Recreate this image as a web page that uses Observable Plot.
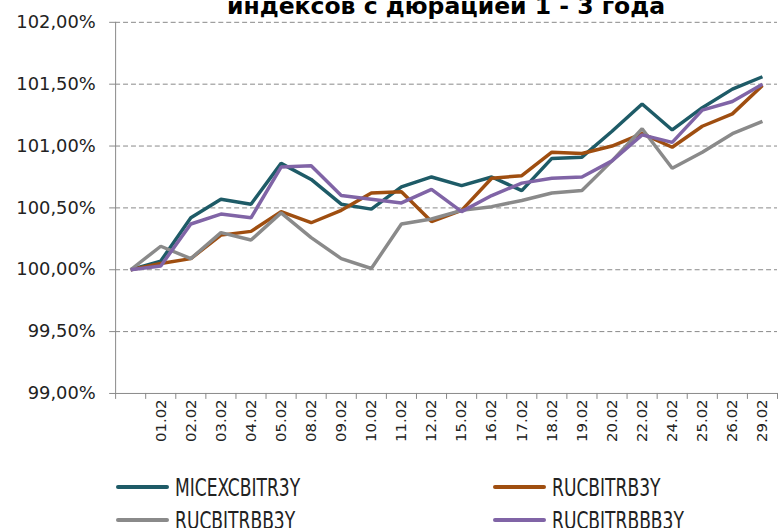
<!DOCTYPE html>
<html>
<head>
<meta charset="utf-8">
<script src="https://cdn.jsdelivr.net/npm/d3@7"></script>
<script src="https://cdn.jsdelivr.net/npm/@observablehq/plot@0.6"></script>
<style>
  html, body { margin: 0; padding: 0; background: #fff; overflow: hidden; }
  #wrap { position: relative; width: 779px; height: 528px; overflow: hidden; }
  #title { position: absolute; left: 0; width: 892px; top: -5px; text-align: center;
           font: bold 23.5px "DejaVu Sans"; line-height: 23px; color: #000; white-space: nowrap; }
  .leg { position: absolute; font: 19px "DejaVu Sans Condensed", "DejaVu Sans"; color: #222;
         transform-origin: left center; transform: scaleY(1.3); white-space: nowrap; line-height: 20px; }
  .sw { position: absolute; height: 4px; border-radius: 2px; }
</style>
</head>
<body>
<div id="wrap">
  <div id="chart"></div>
  <div id="title">индексов с дюрацией 1 - 3 года</div>
</div>
<script>
const dates = ["", "01.02","02.02","03.02","04.02","05.02","08.02","09.02","10.02","11.02","12.02",
  "15.02","16.02","17.02","18.02","19.02","20.02","22.02","24.02","25.02","26.02","29.02"];
const seriesNames = ["MICEXCBITR3Y", "RUCBITRB3Y", "RUCBITRBB3Y", "RUCBITRBBB3Y"];
const seriesColors = ["#1E5B67", "#9F4E10", "#8A8A8A", "#8064A6"];
const micex = [100.00,100.07,100.42,100.57,100.53,100.86,100.73,100.53,100.49,100.67,100.75,100.68,100.75,100.64,100.90,100.91,101.12,101.34,101.13,101.31,101.46,101.56];
const rucB = [100.00,100.05,100.09,100.28,100.31,100.47,100.38,100.48,100.62,100.63,100.39,100.48,100.74,100.76,100.95,100.94,101.00,101.10,100.99,101.16,101.26,101.49];
const rucBB = [100.00,100.19,100.09,100.30,100.24,100.46,100.26,100.09,100.01,100.37,100.41,100.48,100.51,100.56,100.62,100.64,100.88,101.14,100.82,100.95,101.10,101.20];
const rucBBB = [100.00,100.03,100.37,100.45,100.42,100.83,100.84,100.60,100.57,100.54,100.65,100.47,100.60,100.70,100.74,100.75,100.88,101.09,101.03,101.29,101.36,101.50];
const yTicks = [99, 99.5, 100, 100.5, 101, 101.5, 102];

const allSeries = [micex, rucB, rucBB, rucBBB];
const rows = [];
allSeries.forEach((vals, s) => vals.forEach((v, i) => rows.push({i, v, name: seriesNames[s]})));
const idx = dates.map((d, i) => i);
const bounds = dates.map((d, i) => i - 0.5).concat([dates.length - 0.5]);
const fmt = v => v.toFixed(2).replace(".", ",") + "%";
const axisColor = "#888";

const chart = Plot.plot({
  width: 785, height: 528,
  marginLeft: 116, marginRight: 2, marginTop: 22, marginBottom: 132,
  style: {fontFamily: "DejaVu Sans", background: "white", overflow: "visible"},
  x: {type: "linear", domain: [-0.5, dates.length - 0.5]},
  y: {domain: [99, 102]},
  color: {domain: seriesNames, range: seriesColors},
  marks: [
    Plot.gridY(yTicks.filter(v => v > 99), {stroke: axisColor, strokeOpacity: 1, strokeDasharray: "5,3"}),
    Plot.ruleY([99], {stroke: axisColor}),
    Plot.ruleX([-0.5], {stroke: axisColor}),
    Plot.axisY({ticks: yTicks, tickFormat: fmt, tickSize: 6, tickPadding: 14, fontSize: 18, stroke: axisColor, strokeOpacity: 1, color: "#222", label: null}),
    Plot.axisX({ticks: bounds, tickFormat: () => "", tickSize: 6, stroke: axisColor, strokeOpacity: 1, label: null}),
    Plot.axisX({ticks: idx, tickFormat: i => dates[i], tickSize: 0, tickPadding: 6, tickRotate: -90, fontSize: 15, color: "#222", label: null}),
    Plot.line(rows, {x: "i", y: "v", z: "name", stroke: "name", strokeWidth: 3.5, strokeLinejoin: "miter", strokeLinecap: "butt"})
  ]
});
document.getElementById("chart").appendChild(chart);

// legend
const wrap = document.getElementById("wrap");
const legPos = [[116, 487], [493, 487], [116, 520], [493, 520]];
seriesNames.forEach((n, k) => {
  const [lx, ly] = legPos[k];
  const sw = document.createElement("div");
  sw.className = "sw";
  sw.style.left = lx + "px"; sw.style.top = (ly - 2) + "px"; sw.style.width = "53px";
  sw.style.background = seriesColors[k];
  wrap.appendChild(sw);
  const t = document.createElement("div");
  t.className = "leg";
  t.textContent = n;
  t.style.left = (lx + 59) + "px"; t.style.top = (ly - 10) + "px";
  wrap.appendChild(t);
});
</script>
</body>
</html>
